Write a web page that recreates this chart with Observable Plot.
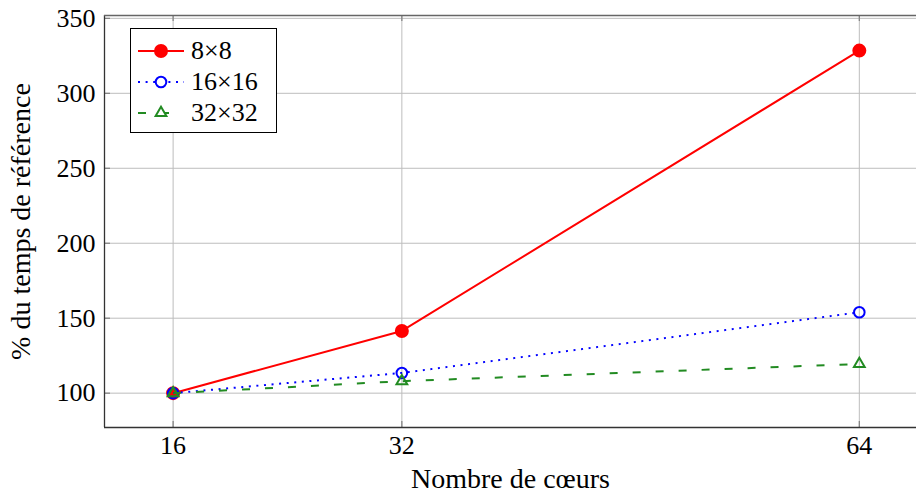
<!DOCTYPE html>
<html>
<head>
<meta charset="utf-8">
<script src="https://cdn.jsdelivr.net/npm/d3@7"></script>
<script src="https://cdn.jsdelivr.net/npm/@observablehq/plot@0.6"></script>
<style>
  body { margin: 0; background: #fff; }
  #wrap { position: relative; width: 916px; height: 493px; font-family: "Liberation Serif", "Times New Roman", serif; }
  #legend { position: absolute; left: 130px; top: 28px; width: 145px; height: 103px; border: 1px solid #000; background: #fff; }
  .entry { position: absolute; left: 0; height: 30px; display: flex; align-items: center; font-size: 26px; font-family: "Liberation Serif", "Times New Roman", serif; }
  .entry svg { margin-left: 7px; margin-right: 7px; }
</style>
</head>
<body>
<div id="wrap"></div>
<script>
// Data
const cores = [16, 32, 64];
const seriesNames = ["8×8", "16×16", "32×32"];
const s8 = [100, 141.5, 328.5];
const s16 = [100, 113.5, 154];
const s32 = [100, 108, 119.5];
const xTicks = [16, 32, 64];
const yTicks = [100, 150, 200, 250, 300, 350];
const xDomain = [11.2, 68];
const yDomain = [77.1, 351.9];

const styles = [
  {stroke: "#ff0000", dash: null, symbol: "circle", fill: "#ff0000", r: 6},
  {stroke: "#0000ff", dash: "2,5.6", symbol: "circle", fill: "none", r: 5.3},
  {stroke: "#228b22", dash: "8,15", symbol: "triangle", fill: "none", r: 4}
];
const allSeries = [s8, s16, s32];

const W = 916, H = 493, mL = 104, mR = 0, mT = 15, mB = 66;
const plotW = W - mL - mR, plotH = H - mT - mB;

const marks = [
  Plot.gridX(xTicks, {stroke: "#bdbdbd", strokeOpacity: 1, strokeWidth: 1}),
  Plot.gridY(yTicks, {stroke: "#bdbdbd", strokeOpacity: 1, strokeWidth: 1}),
  // inward ticks
  Plot.tickX(xTicks, {x: d => d, stroke: "#808080", strokeWidth: 1.2, insetTop: plotH - 6}),
  Plot.tickX(xTicks, {x: d => d, stroke: "#808080", strokeWidth: 1.2, insetBottom: plotH - 6}),
  Plot.tickY(yTicks, {y: d => d, stroke: "#808080", strokeWidth: 1.2, insetRight: plotW - 6}),
  // frame sides
  Plot.ruleX([xDomain[0]], {stroke: "#333", strokeWidth: 1.3}),
  Plot.ruleY([yDomain[0]], {stroke: "#333", strokeWidth: 1.3}),
  Plot.ruleY([yDomain[1]], {stroke: "#666", strokeWidth: 1.6}),
  Plot.axisX({ticks: xTicks, tickSize: 0, tickPadding: 8, fontSize: 26, label: null, tickFormat: d => String(d)}),
  Plot.axisX({ticks: [], tickSize: 0, fontSize: 28, label: "Nombre de cœurs", labelAnchor: "center", labelArrow: "none", labelOffset: 60}),
  Plot.axisY({ticks: yTicks, tickSize: 0, tickPadding: 9, fontSize: 26, label: null, tickFormat: d => String(d)}),
  Plot.axisY({ticks: [], tickSize: 0, fontSize: 28, label: "% du temps de référence", labelAnchor: "center", labelArrow: "none", labelOffset: 94})
];

allSeries.forEach((vals, i) => {
  const st = styles[i];
  const data = cores.map((c, j) => ({x: c, y: vals[j]}));
  marks.push(Plot.line(data, {x: "x", y: "y", stroke: st.stroke, strokeWidth: 2, strokeDasharray: st.dash, strokeLinecap: "butt"}));
  marks.push(Plot.dot(data, {x: "x", y: "y", symbol: st.symbol, r: st.r, fill: st.fill, stroke: st.stroke, strokeWidth: 2}));
});

const chart = Plot.plot({
  width: W, height: H,
  marginLeft: mL, marginRight: mR, marginTop: mT, marginBottom: mB,
  style: {fontFamily: "'Liberation Serif', 'Times New Roman', serif", fontSize: "26px", color: "#000", background: "#fff"},
  x: {type: "linear", domain: xDomain},
  y: {type: "linear", domain: yDomain},
  marks
});
const wrap = document.getElementById("wrap");
wrap.appendChild(chart);

// Legend
const legend = document.createElement("div");
legend.id = "legend";
seriesNames.forEach((name, i) => {
  const st = styles[i];
  const e = document.createElement("div");
  e.className = "entry";
  e.style.top = (7 + i * 31) + "px";
  const svg = d3.create("svg").attr("width", 46).attr("height", 20);
  svg.append("line").attr("x1", 0).attr("x2", 46).attr("y1", 10).attr("y2", 10)
    .attr("stroke", st.stroke).attr("stroke-width", 2)
    .attr("stroke-dasharray", st.dash);
  const sym = st.symbol === "triangle" ? d3.symbolTriangle : d3.symbolCircle;
  svg.append("path").attr("transform", "translate(23,10)")
    .attr("d", d3.symbol(sym, Math.PI * st.r * st.r)())
    .attr("fill", st.fill === "none" ? "#fff" : st.fill)
    .attr("stroke", st.stroke).attr("stroke-width", 2);
  e.appendChild(svg.node());
  const t = document.createElement("span");
  t.textContent = name;
  e.appendChild(t);
  legend.appendChild(e);
});
wrap.appendChild(legend);
</script>
</body>
</html>
